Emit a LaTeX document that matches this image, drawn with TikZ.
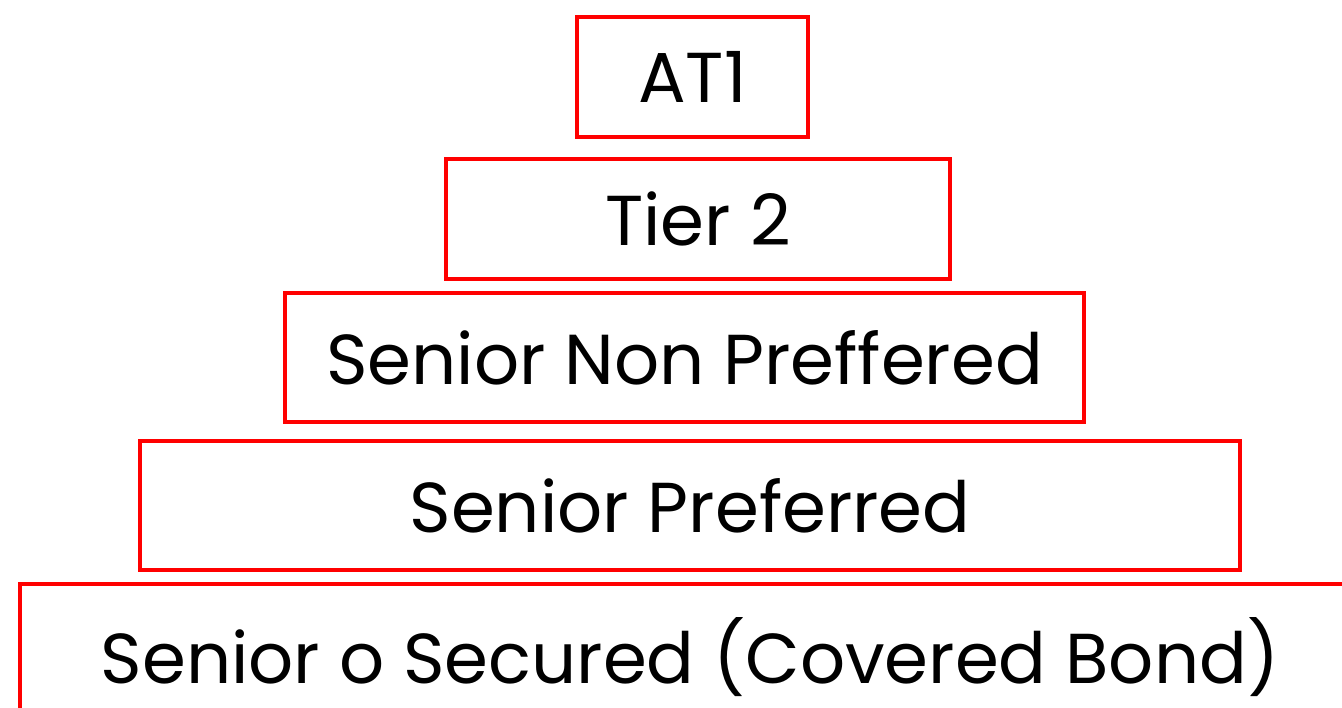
\documentclass[tikz,border=0pt]{standalone}
\usepackage{fontspec}
\setmainfont{Poppins}
\usetikzlibrary{positioning}

\begin{document}
\begin{tikzpicture}[x=0.75pt, y=-0.75pt,
        layer/.style={draw=red, line width=2.8pt, inner sep=0pt,
            font=\fontsize{53}{60}\selectfont}]
        \useasboundingbox (0,0) rectangle (1342,707);
        \clip (0,0) rectangle (1342,707);

        % Rangfolge der Anleihen
        \node[layer, minimum width=173pt, minimum height=90pt] (at1) at (692.5,77) {AT1};
        \node[layer, minimum width=378pt, minimum height=90pt] (tier2) at (698,219) {Tier 2};
        \node[layer, minimum width=599pt, minimum height=97pt] (snp) at (684.5,357.5) {Senior Non Preffered};
        \node[layer, minimum width=825pt, minimum height=97pt] (sp) at (690,505.5) {Senior Preferred};
        \node[layer, minimum width=1005pt, minimum height=110pt] (secured) at (690,657) {Senior o Secured (Covered Bond)};
    \end{tikzpicture}
\end{document}
